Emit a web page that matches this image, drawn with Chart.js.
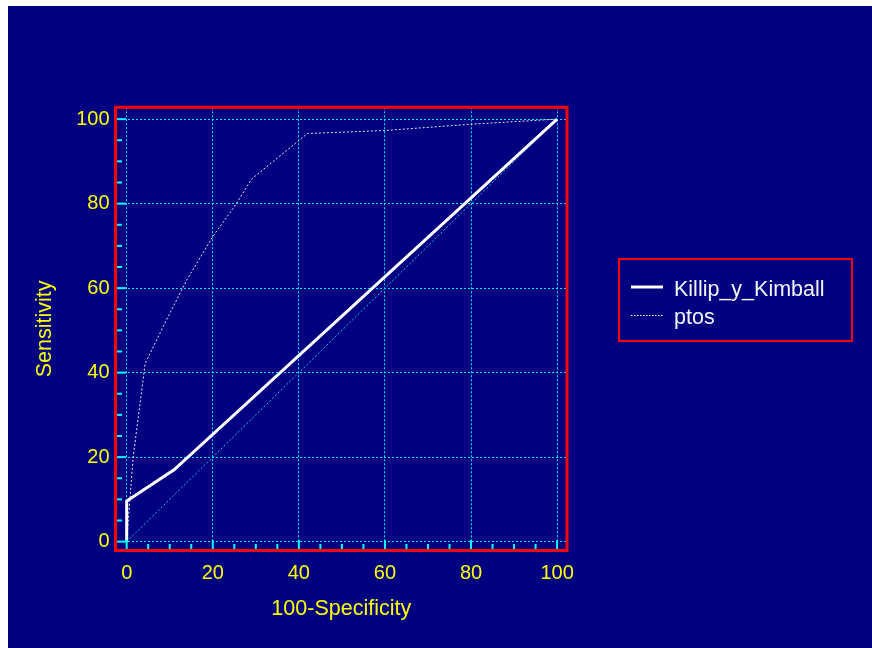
<!DOCTYPE html>
<html>
<head>
<meta charset="utf-8">
<script src="https://cdn.jsdelivr.net/npm/chart.js@4/dist/chart.umd.min.js"></script>
<style>
  html, body { margin: 0; padding: 0; background: #ffffff; }
  canvas { display: block; }
</style>
</head>
<body>
<canvas id="c" width="872" height="648"></canvas>
<script>
// ---- data ----
const killipX = [0, 0, 11, 100];
const killipY = [0, 9.6, 17, 100];
const ptosX = [0, 1.5, 4.3, 9, 14, 20, 25.5, 29, 42, 60, 80, 100];
const ptosY = [0, 20, 42.2, 52, 62, 72.2, 80, 85.8, 96.6, 97.3, 98.8, 100];
const refX = [0, 100];
const refY = [0, 100];
const axisTicks = [0, 20, 40, 60, 80, 100];
const minorTicks = [0, 5, 10, 15, 20, 25, 30, 35, 40, 45, 50, 55, 60, 65, 70, 75, 80, 85, 90, 95, 100];
const seriesNames = ['Killip_y_Kimball', 'ptos'];
const xTitle = '100-Specificity';
const yTitle = 'Sensitivity';

const FONT = '"Liberation Sans", Arial, sans-serif';
const pts = (xs, ys) => xs.map((x, i) => ({x: x, y: ys[i]}));

const bgPlugin = {
  id: 'bg',
  beforeDraw(chart) {
    const ctx = chart.ctx;
    ctx.save();
    ctx.fillStyle = '#ffffff';
    ctx.fillRect(0, 0, chart.width, chart.height);
    ctx.fillStyle = '#000080';
    ctx.fillRect(8, 6, chart.width - 8, chart.height - 6);
    ctx.restore();
  }
};

const framePlugin = {
  id: 'frame',
  afterDraw(chart) {
    const ctx = chart.ctx;
    const a = chart.chartArea;
    const xs = chart.scales.x, ys = chart.scales.y;
    ctx.save();
    // inner tick marks
    ctx.strokeStyle = '#00FFFF';
    ctx.lineWidth = 2;
    minorTicks.forEach(v => {
      const len = (v % 20 === 0) ? 9 : 5;
      const px = xs.getPixelForValue(v);
      ctx.beginPath();
      ctx.moveTo(px, a.bottom - 1.5);
      ctx.lineTo(px, a.bottom - 1.5 - len);
      ctx.stroke();
      const py = ys.getPixelForValue(v);
      ctx.beginPath();
      ctx.moveTo(a.left + 1.5, py);
      ctx.lineTo(a.left + 1.5 + len, py);
      ctx.stroke();
    });
    // red frame
    ctx.strokeStyle = '#FF0000';
    ctx.lineWidth = 3;
    ctx.strokeRect(a.left, a.top, a.right - a.left, a.bottom - a.top);
    // legend box
    ctx.lineWidth = 2;
    ctx.strokeRect(619, 259, 233, 82);
    const ds = chart.data.datasets;
    ctx.strokeStyle = '#ffffff';
    ctx.lineWidth = 3;
    ctx.setLineDash([]);
    ctx.beginPath(); ctx.moveTo(631, 287); ctx.lineTo(663, 287); ctx.stroke();
    ctx.lineWidth = 1;
    ctx.setLineDash([1.5, 1.5]);
    ctx.beginPath(); ctx.moveTo(631, 315.5); ctx.lineTo(663, 315.5); ctx.stroke();
    ctx.setLineDash([]);
    ctx.fillStyle = '#F4F4F4';
    ctx.font = '21.5px ' + FONT;
    ctx.textBaseline = 'middle';
    ctx.textAlign = 'left';
    ctx.fillText(ds[0].label, 674, 290);
    ctx.fillText(ds[1].label, 674, 318.5);
    ctx.restore();
  }
};

const fixTicks = scale => { scale.ticks = axisTicks.map(v => ({value: v})); };

new Chart(document.getElementById('c'), {
  type: 'scatter',
  data: {
    datasets: [
      { label: seriesNames[0], data: pts(killipX, killipY), showLine: true, borderColor: '#ffffff', borderWidth: 3, pointRadius: 0, tension: 0, order: 1 },
      { label: seriesNames[1], data: pts(ptosX, ptosY), showLine: true, borderColor: '#E8E8F0', borderWidth: 1, borderDash: [2, 2], pointRadius: 0, tension: 0, order: 2 },
      { label: 'ref', data: pts(refX, refY), showLine: true, borderColor: '#10C8F0', borderWidth: 1, borderDash: [2, 2], pointRadius: 0, tension: 0, order: 3 }
    ]
  },
  options: {
    responsive: false,
    animation: false,
    devicePixelRatio: 1,
    layout: { padding: { left: 8, top: 107.3, right: 305, bottom: 20 } },
    plugins: { legend: { display: false }, tooltip: { enabled: false } },
    scales: {
      x: {
        type: 'linear', min: -2.6, max: 102.3,
        afterBuildTicks: fixTicks,
        afterFit: s => { s.height = 77.5; },
        grid: { color: '#00E8FF', lineWidth: 1, drawTicks: false },
        border: { display: false, dash: [2, 2] },
        ticks: { color: '#FFFF00', font: { family: FONT, size: 20 }, padding: 11, maxRotation: 0 },
        title: { display: true, text: xTitle, color: '#FFFF00', font: { family: FONT, size: 21.5 }, padding: { top: 0, bottom: 6 } }
      },
      y: {
        type: 'linear', min: -2.1, max: 102.8,
        afterBuildTicks: fixTicks,
        afterFit: s => { s.width = 107.5; },
        grid: { color: '#00E8FF', lineWidth: 1, drawTicks: false },
        border: { display: false, dash: [2, 2] },
        ticks: { color: '#FFFF00', font: { family: FONT, size: 20 }, padding: 6 },
        title: { display: true, text: yTitle, color: '#FFFF00', font: { family: FONT, size: 21.5 }, padding: { top: 24, bottom: 0 } }
      }
    }
  },
  plugins: [bgPlugin, framePlugin]
});
</script>
</body>
</html>
